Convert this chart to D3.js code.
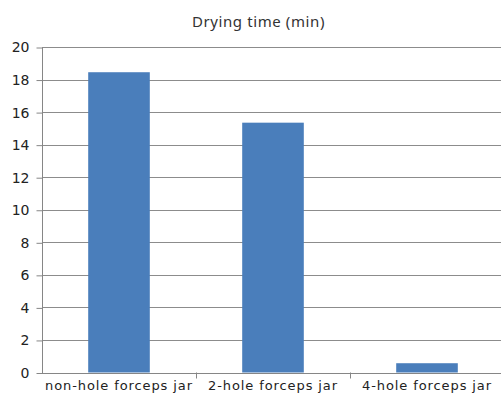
<!DOCTYPE html>
<html><head><meta charset="utf-8">
<script src="https://cdn.jsdelivr.net/npm/d3@7"></script>
<style>body{margin:0;background:#fff;overflow:hidden}svg{display:block}</style>
</head><body>
<script>
const categories = ["non-hole forceps jar", "2-hole forceps jar", "4-hole forceps jar"];
const values = [18.45, 15.35, 0.57];
const yTicks = [0, 2, 4, 6, 8, 10, 12, 14, 16, 18, 20];
const title = "Drying time (min)";

const W = 501, H = 396;
const svg = d3.select("body").append("svg").attr("width", W).attr("height", H);
const x0 = 42, xEnd = 504, yTop = 47, yBot = 372.5;
const x = d3.scaleBand().domain(categories).range([x0, xEnd]).paddingInner(0.6).paddingOuter(0.3);
const y = d3.scaleLinear().domain([0, 20]).range([yBot, yTop]);

// gridlines
svg.append("g").selectAll("line").data(yTicks.filter(d => d > 0)).join("line")
  .attr("x1", x0).attr("x2", xEnd).attr("y1", d => Math.round(y(d)) + 0.5).attr("y2", d => Math.round(y(d)) + 0.5)
  .attr("stroke", "#8c8c8c").attr("stroke-width", 1);

// bars
svg.append("g").selectAll("rect").data(values).join("rect")
  .attr("x", (d, i) => x(categories[i])).attr("width", x.bandwidth())
  .attr("y", d => y(d)).attr("height", d => y(0) - y(d))
  .attr("fill", "#4a7ebb");

// y axis
const yAxis = d3.axisLeft(y).tickValues(yTicks).tickSize(6).tickPadding(7).tickFormat(d3.format("d"));
const gy = svg.append("g").attr("transform", `translate(${x0 + 0.5},0.5)`).call(yAxis);
gy.select(".domain").attr("stroke", "#868686").attr("d", `M0,${yTop}V${yBot}`);
gy.selectAll(".tick line").attr("stroke", "#868686");
gy.selectAll("text").style("font-family", "'DejaVu Sans', sans-serif").attr("font-size", 14).attr("fill", "#222");

// x axis
const step = x.step();
const bounds = [0, 1, 2, 3].map(i => x0 + i * step);
const gx = svg.append("g");
gx.append("line").attr("x1", x0).attr("x2", xEnd).attr("y1", Math.round(yBot) + 0.5).attr("y2", Math.round(yBot) + 0.5).attr("stroke", "#868686");
gx.selectAll("line.t").data(bounds.slice(1)).join("line").attr("class", "t")
  .attr("x1", d => Math.round(d) + 0.5).attr("x2", d => Math.round(d) + 0.5)
  .attr("y1", yBot).attr("y2", yBot + 6).attr("stroke", "#868686");
const xAxis = d3.axisBottom(x).tickSize(0).tickPadding(8);
const gxl = svg.append("g").attr("transform", `translate(0,${yBot})`).call(xAxis);
gxl.select(".domain").remove();
gxl.selectAll("text").style("font-family", "'DejaVu Sans', sans-serif").attr("font-size", 13)
  .attr("letter-spacing", 0.9).attr("fill", "#222");

// title
svg.append("text").attr("x", 258.5).attr("y", 27).attr("text-anchor", "middle")
  .style("font-family", "'Noto Sans', sans-serif").attr("font-size", 15).attr("letter-spacing", 0.6)
  .attr("fill", "#333").text(title);
</script>
</body></html>
